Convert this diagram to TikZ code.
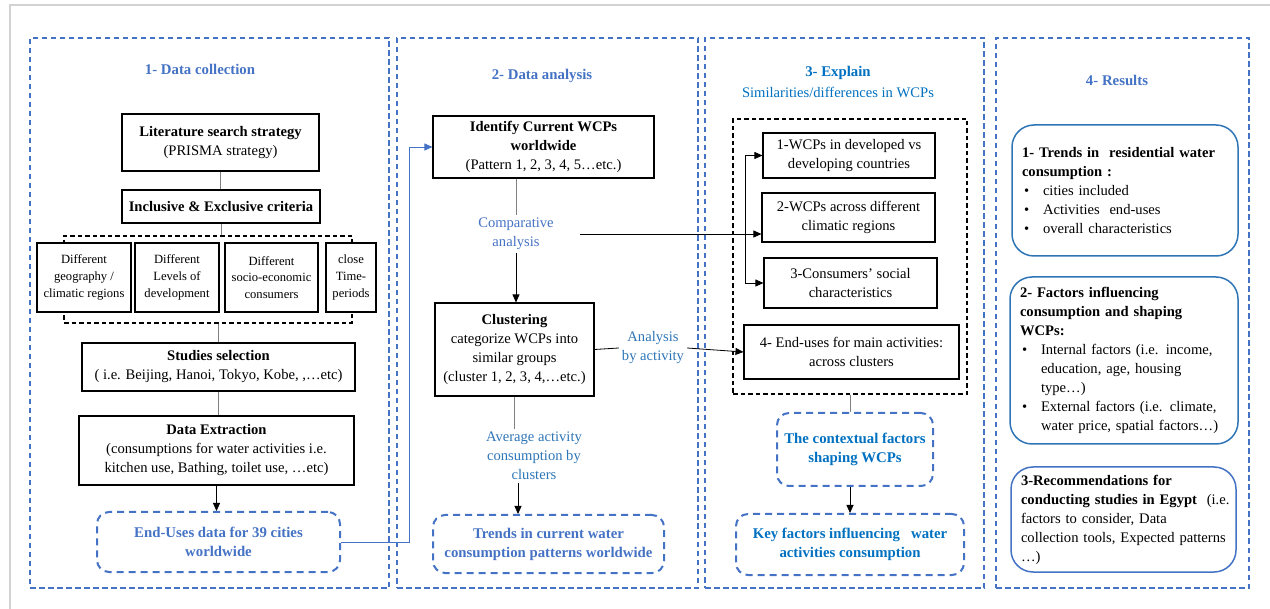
\documentclass[tikz,border=0pt]{standalone}
\usepackage{fontspec}
\setmainfont{Liberation Serif}
\usetikzlibrary{arrows.meta,calc}
\definecolor{pblue}{HTML}{4472C4}
\definecolor{dblue}{HTML}{2E75B6}
\definecolor{cblue}{HTML}{0070C0}
\newcommand{\blt}{\hspace*{2pt}\makebox[19pt][l]{\textbullet}}
\newcommand{\ind}{\hspace*{21pt}}
\begin{document}
\begin{tikzpicture}[x=1pt,y=-1pt,
  font=\fontsize{14.6}{19}\selectfont,
  panel/.style={draw=pblue, dash pattern=on 5.5pt off 3.5pt, line width=1.3pt},
  ptitle/.style={text=pblue, font=\fontsize{14.8}{19}\selectfont\bfseries},
  box/.style={draw=black, line width=1.1pt, fill=white, align=center, inner sep=2pt},
  sbox/.style={box, font=\fontsize{12.6}{16.7}\selectfont},
  bdash/.style={draw=black, dash pattern=on 4.5pt off 3pt, line width=1.1pt},
  bluedash/.style={draw=pblue, rounded corners=12pt, dash pattern=on 7pt off 5pt, line width=2pt, text=pblue, font=\fontsize{14.8}{19}\selectfont\bfseries, align=center},
  result/.style={draw=dblue, rounded corners=22pt, line width=1.5pt, align=left, inner xsep=10pt},
  lbl/.style={align=center, inner sep=3pt},
  gline/.style={draw=gray, line width=1pt},
  line/.style={draw=black, line width=0.8pt},
  arr/.style={line, -{Triangle[length=8pt,width=7pt]}},
  barr/.style={draw=pblue, line width=0.9pt, -{Triangle[length=8pt,width=7pt]}}
]
\useasboundingbox (0,0) rectangle (1270,609);
\draw[gray!35, line width=1.5pt] (10,609) -- (10,5) -- (1270,5);

% panels
\node[panel, minimum width=359pt, minimum height=550pt] (p1) at (209.5,313) {};
\node[panel, minimum width=301pt, minimum height=550pt] (p2) at (547.5,313) {};
\node[panel, minimum width=279pt, minimum height=550pt] (p3) at (844.5,313) {};
\node[panel, minimum width=253pt, minimum height=550pt] (p4) at (1122.5,313) {};

% titles
\node[ptitle] (t1) at (200,69) {1- Data collection};
\node[ptitle] (t2) at (542,76) {2- Data analysis};
\node[ptitle, text=cblue] (t3) at (838,73) {3- Explain};
\node[text=cblue] (t3b) at (838,92) {Similarities/differences in WCPs};
\node[ptitle] (t4) at (1117,80) {4- Results};

% panel 1
\node[box, minimum width=197pt, minimum height=57pt] (lit) at (220.5,142.5) {\textbf{Literature search strategy}\\(PRISMA strategy)};
\node[box, minimum width=198pt, minimum height=33pt] (incl) at (221,206.5) {\textbf{Inclusive \& Exclusive criteria}};
\node[bdash, minimum width=288pt, minimum height=87pt] (br) at (208,279.5) {};
\node[sbox, minimum width=94pt, minimum height=69pt] (ga) at (84,277.5) {Different\\geography /\\climatic regions};
\node[sbox, minimum width=84pt, minimum height=69pt] (gb) at (177,277.5) {Different\\Levels of\\development};
\node[sbox, minimum width=93pt, minimum height=69pt] (gc) at (271.5,277.5) {Different\\socio-economic\\consumers};
\node[sbox, minimum width=50pt, minimum height=69pt] (gd) at (351,277.5) {close\\Time-\\periods};
\node[box, minimum width=273pt, minimum height=48pt] (stud) at (218.5,367) {\textbf{Studies selection}\\( i.e. Beijing, Hanoi, Tokyo, Kobe, ,…etc)};
\node[box, minimum width=275pt, minimum height=69pt] (ext) at (216.5,450.5) {\textbf{Data Extraction}\\(consumptions for water activities i.e.\\kitchen use, Bathing, toilet use, …etc)};
\node[bluedash, minimum width=243pt, minimum height=60pt] (end) at (218.5,542) {End-Uses data for 39 cities\\worldwide};

\draw[gline] (lit.south) -- (lit.south |- incl.north);
\draw[gline] (incl.south) -- (incl.south |- br.north);
\draw[gline] (br.south -| stud.north) -- (stud.north);
\draw[gline] (stud.south) -- (stud.south |- ext.north);
\draw[arr] (ext.south) -- (ext.south |- end.north);

% panel 2
\node[box, minimum width=221pt, minimum height=62pt] (id) at (543.5,147) {\textbf{Identify Current WCPs}\\\textbf{worldwide}\\(Pattern 1, 2, 3, 4, 5…etc.)};
\node[lbl, text=pblue] (ca) at (516,234) {Comparative\\analysis};
\node[box, minimum width=159pt, minimum height=93pt] (clu) at (514.5,349.5) {\textbf{Clustering}\\categorize WCPs into\\similar groups\\(cluster 1, 2, 3, 4,…etc.)};
\node[lbl, text=dblue] (aa) at (653,348) {Analysis\\by activity};
\node[lbl, text=dblue] (av) at (534,456) {Average activity\\consumption by\\clusters};
\node[bluedash, minimum width=231pt, minimum height=58pt] (tr) at (548.5,544) {Trends in current water\\consumption patterns worldwide};

\draw[barr] (end.east) -- ++(68,0) |- (id.west);
\draw[gline] (id.south -| ca.north) -- (ca.north);
\draw[arr] (ca.south) -- (ca.south |- clu.north);
\draw[gline] (clu.south) -- (clu.south |- av.north);
\draw[arr] ([xshift=-16pt]av.south) -- ([xshift=-16pt]av.south |- tr.north);

% panel 3
\node[bdash, minimum width=234pt, minimum height=275pt] (grp) at (850,256.5) {};
\node[box, minimum width=172pt, minimum height=45pt] (b1) at (849,155.5) {1-WCPs in developed vs\\developing countries};
\node[box, minimum width=173pt, minimum height=49pt] (b2) at (848.5,217.5) {2-WCPs across different\\climatic regions};
\node[box, minimum width=173pt, minimum height=50pt] (b3) at (850.5,283) {3-Consumers' social\\characteristics};
\node[box, minimum width=215pt, minimum height=54pt] (b4) at (851.5,352) {4- End-uses for main activities:\\across clusters};
\node[bluedash, text=cblue, minimum width=156pt, minimum height=73pt] (ctx) at (855,449.5) {The contextual factors\\shaping WCPs};
\node[bluedash, text=cblue, minimum width=228pt, minimum height=61pt] (key) at (850,544.5) {Key factors influencing~~ water\\activities consumption};

\coordinate (bt) at (745,155.5);
\coordinate (bb) at (745,283);
\draw[line] (bt) -- (bb);
\draw[arr] (bt) -- (b1.west);
\draw[arr] (bb) -- (b3.west);
\draw[arr] ([xshift=23pt]ca.east) -- (ca.east -| b2.west);
\draw[line] (clu.east) -- (aa.west);
\draw[arr] (aa.east) -- (b4.west);
\draw[gline] (grp.south) -- (grp.south |- ctx.north);
\draw[arr] (ctx.south -| grp.south) -- (grp.south |- key.north);

% panel 4
\node[result, minimum width=226pt, minimum height=131pt, text width=206pt] (r1) at (1125,190.5) {\mbox{\textbf{1- Trends in~ residential water}}\\\mbox{\textbf{consumption :}}\\\mbox{\blt cities included}\\\mbox{\blt Activities~ end-uses}\\\mbox{\blt overall characteristics}};
\node[result, minimum width=228pt, minimum height=167pt, text width=208pt] (r2) at (1124,360.5) {\mbox{\textbf{2- Factors influencing}}\\\mbox{\textbf{consumption and shaping}}\\\mbox{\textbf{WCPs:}}\\\mbox{\blt Internal factors (i.e. income,}\\\mbox{\ind education, age, housing}\\\mbox{\ind type…)}\\\mbox{\blt External factors (i.e. climate,}\\\mbox{\ind water price, spatial factors…)}};
\node[result, draw=pblue, minimum width=225pt, minimum height=105pt, text width=205pt] (r3) at (1123.5,519.5) {\mbox{\textbf{3-Recommendations for}}\\\mbox{\textbf{conducting studies in Egypt}~ (i.e.}\\\mbox{factors to consider, Data}\\\mbox{collection tools, Expected patterns}\\\mbox{…)}};
\end{tikzpicture}
\end{document}
